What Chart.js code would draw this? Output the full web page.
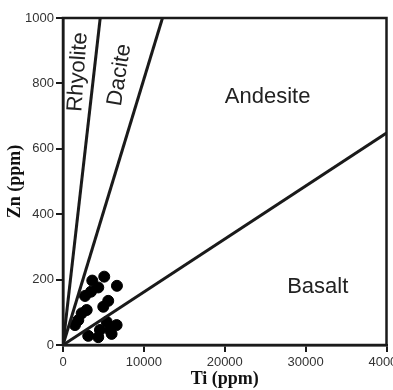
<!DOCTYPE html>
<html><head><meta charset="utf-8">
<script src="https://cdn.jsdelivr.net/npm/chart.js@4/dist/chart.umd.min.js"></script>
<style>html,body{margin:0;padding:0;background:#fff}#w{width:393px;height:390px}</style>
</head><body><div id="w"><canvas id="c"></canvas></div>
<script>
const xTicks = [0, 10000, 20000, 30000, 40000];
const yTicks = [0, 200, 400, 600, 800, 1000];
const tiValues = [3620, 5100, 4360, 6670, 3460, 2720, 5590, 4980, 2930, 2310, 1890, 1480, 5400, 6630, 5800, 4570, 3120, 4360, 6010];
const znValues = [197, 209, 176, 181, 163, 150, 135, 117, 107, 97, 76, 61, 71, 61, 46, 46, 28, 24, 34];
const rhyoliteLine = [[0, 0], [4600, 1000]];
const daciteLine = [[0, 0], [12300, 1000]];
const basaltLine = [[0, 0], [40000, 648]];
const fieldNames = ["Rhyolite", "Dacite", "Andesite", "Basalt"];
const fieldTi = [1850, 7000, 25300, 31500];
const fieldZn = [835, 826, 758, 177];
const fieldRot = [-86, -81, 0, 0];

const toPts = a => a.map(p => ({x: p[0], y: p[1]}));
const lineDs = (d) => ({data: toPts(d), showLine: true, borderColor: '#1a1a1a', borderWidth: 3, pointRadius: 0, fill: false});

const labelPlugin = {
  id: 'labels',
  afterDatasetsDraw(chart) {
    const {ctx, chartArea: a, scales: {x, y}} = chart;
    ctx.save();
    ctx.strokeStyle = '#1a1a1a';
    ctx.lineWidth = 2.5;
    ctx.strokeRect(a.left, a.top, a.right - a.left, a.bottom - a.top);
    ctx.fillStyle = '#222';
    ctx.font = '22px "Liberation Sans", Arial, sans-serif';
    ctx.textAlign = 'center';
    ctx.textBaseline = 'middle';
    fieldNames.forEach((n, i) => {
      ctx.save();
      ctx.translate(x.getPixelForValue(fieldTi[i]), y.getPixelForValue(fieldZn[i]));
      ctx.rotate(fieldRot[i] * Math.PI / 180);
      ctx.fillText(n, 0, 0);
      ctx.restore();
    });
    ctx.restore();
  }
};

new Chart(document.getElementById('c'), {
  type: 'scatter',
  data: {datasets: [
    lineDs(rhyoliteLine), lineDs(daciteLine), lineDs(basaltLine),
    {data: tiValues.map((t, i) => ({x: t, y: znValues[i]})), backgroundColor: '#000', borderColor: '#000', pointRadius: 5.5, showLine: false}
  ]},
  options: {
    responsive: true, maintainAspectRatio: false, animation: false,
    layout: {padding: {top: 18, right: 6, left: 0, bottom: 0}},
    plugins: {legend: {display: false}, tooltip: {enabled: false}},
    scales: {
      x: {type: 'linear', min: 0, max: 40000,
        afterBuildTicks: s => { s.ticks = xTicks.map(v => ({value: v})); },
        afterFit: s => { s.height = 45; s.paddingRight = 0; s.paddingLeft = 0; },
        grid: {drawOnChartArea: false, drawTicks: true, tickLength: 7, color: '#1a1a1a', lineWidth: 2},
        border: {display: true, color: '#1a1a1a', width: 2.5},
        ticks: {color: '#333', font: {family: '"Liberation Sans", Arial', size: 13}, padding: 3, maxRotation: 0, callback: v => String(v)},
        title: {display: true, text: 'Ti (ppm)', color: '#111', font: {family: '"Liberation Serif", "Times New Roman", serif', size: 18, weight: 'bold'}, padding: {top: 4, bottom: 0}}
      },
      y: {type: 'linear', min: 0, max: 1000,
        afterBuildTicks: s => { s.ticks = yTicks.map(v => ({value: v})); },
        afterFit: s => { s.width = 63; s.paddingTop = 0; s.paddingBottom = 0; },
        grid: {drawOnChartArea: false, drawTicks: true, tickLength: 7, color: '#1a1a1a', lineWidth: 2},
        border: {display: true, color: '#1a1a1a', width: 2.5},
        ticks: {color: '#333', font: {family: '"Liberation Sans", Arial', size: 13}, padding: 2, callback: v => String(v)},
        title: {display: true, text: 'Zn (ppm)', color: '#111', font: {family: '"Liberation Serif", "Times New Roman", serif', size: 18, weight: 'bold'}, padding: {top: 5, bottom: 0}}
      }
    }
  },
  plugins: [labelPlugin]
});
</script></body></html>
